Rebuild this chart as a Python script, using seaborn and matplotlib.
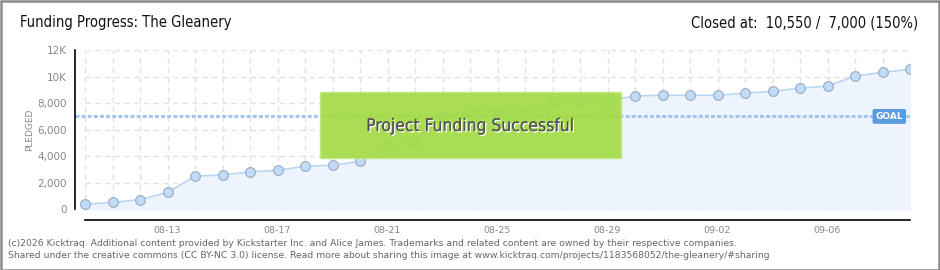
import matplotlib
matplotlib.use("Agg")
import matplotlib.pyplot as plt
import matplotlib.patches as mpatches
import matplotlib.patheffects as pe
import seaborn as sns
import pandas as pd
import numpy as np

# ---- data ----
dates = ["08-10", "08-11", "08-12", "08-13", "08-14", "08-15", "08-16", "08-17",
         "08-18", "08-19", "08-20", "08-21", "08-22", "08-23", "08-24", "08-25",
         "08-26", "08-27", "08-28", "08-29", "08-30", "08-31", "09-01", "09-02",
         "09-03", "09-04", "09-05", "09-06", "09-07", "09-08", "09-09"]
pledged = [380, 530, 730, 1280, 2500, 2590, 2830, 2940, 3260, 3320, 3620, 4780,
           5090, 7030, 7400, 7380, 7380, 8140, 8240, 8180, 8540, 8590, 8590, 8590,
           8760, 8890, 9120, 9290, 10040, 10320, 10550]
goal = 7000
xtick_labels = ["08-13", "08-17", "08-21", "08-25", "08-29", "09-02", "09-06"]
ytick_values = [0, 2000, 4000, 6000, 8000, 10000, 12000]
ytick_labels = ["0", "2,000", "4,000", "6,000", "8,000", "10K", "12K"]

title = "Funding Progress: The Gleanery"
status = "Closed at:  10,550 /  7,000 (150%)"
banner = "Project Funding Successful"
footer1 = ("(c)2026 Kicktraq. Additional content provided by Kickstarter Inc. and Alice James. "
           "Trademarks and related content are owned by their respective companies.")
footer2 = ("Shared under the creative commons (CC BY-NC 3.0) license. Read more about sharing "
           "this image at www.kicktraq.com/projects/1183568052/the-gleanery/#sharing")

df = pd.DataFrame({"date": dates, "pledged": pledged})
df["day"] = np.arange(len(df))

sns.set_style("white")
plt.rcParams["font.family"] = ["DejaVu Sans"]

W, H = 940, 270
fig = plt.figure(figsize=(W / 100, H / 100), dpi=100)
ax = fig.add_axes([75 / W, (H - 220) / H, (910 - 75) / W, (220 - 50) / H])

n = len(df)
ax.set_xlim(-10 / 27.5, n - 1)
ax.set_ylim(-800, 12000)

# grid
grid_kw = dict(colors="#e2e2e2", linestyles=(0, (4, 3)), linewidth=1, zorder=0)
ax.vlines(df["day"], 0, 12000, **grid_kw)
ax.hlines(ytick_values, 0, n - 1, **grid_kw)

# area + line
ax.fill_between(df["day"], 0, df["pledged"], color="#edf4fd", zorder=1)
sns.lineplot(data=df, x="day", y="pledged", ax=ax, color="#b9d7f3", linewidth=1.2,
             marker="o", markersize=7, markerfacecolor="#c2dcf7",
             markeredgecolor="#98a9bf", markeredgewidth=0.8, zorder=3)

# goal line
ax.axhline(goal, color="#a3c7ec", linewidth=2.2, linestyle=(0, (1.3, 0.7)), zorder=2)

# goal tag
ax.annotate("GOAL", xy=(n - 1 - 0.25, goal), xycoords="data", ha="right", va="center",
            fontsize=6.5, color="white", fontweight="bold",
            bbox=dict(boxstyle="round,pad=0.25,rounding_size=0.15", fc="#5b9be0", ec="#5b9be0"),
            zorder=6)

# banner box
bx0, bx1 = 320, 621
by0, by1 = 92, 158
fig.patches.append(mpatches.Rectangle((bx0 / W, (H - by1) / H), (bx1 - bx0) / W, (by1 - by0) / H,
                                      transform=fig.transFigure, facecolor="#a3db45", alpha=0.92,
                                      edgecolor="#c2e884", linewidth=1, zorder=5))
fig.text((bx0 + bx1) / 2 / W, (H - 126) / H, banner, ha="center", va="center",
         fontsize=12.5, color="#555555", zorder=6, fontstretch="condensed",
         path_effects=[pe.withSimplePatchShadow(offset=(1, -1), shadow_rgbFace="white", alpha=1.0),
                       pe.Normal()])

# spines / ticks
for s in ["top", "right"]:
    ax.spines[s].set_visible(False)
ax.spines["left"].set_bounds(0, 12000)
ax.spines["bottom"].set_bounds(0, n - 1)
ax.spines["left"].set_color("black")
ax.spines["bottom"].set_color("black")
ax.spines["left"].set_linewidth(1.2)
ax.spines["bottom"].set_linewidth(1.2)

ax.set_xticks(df["day"])
lbls = [d if d in xtick_labels else "" for d in df["date"]]
ax.set_xticklabels(lbls)
ax.tick_params(axis="x", direction="inout", length=7, width=1, color="black",
               labelsize=6.8, labelcolor="#888888", pad=1)
ax.set_yticks(ytick_values)
ax.set_yticklabels(ytick_labels)
ax.set_yticks([1000, 3000, 5000, 7000, 9000, 11000], minor=True)
ax.tick_params(axis="y", which="major", direction="out", length=4, width=1, color="black",
               labelsize=7.5, labelcolor="#888888", pad=2)
ax.tick_params(axis="y", which="minor", direction="out", length=3, width=1, color="#e00000")
ax.set_xlabel("")
ax.set_ylabel("")
fig.text(30 / W, (H - 130) / H, "PLEDGED", rotation=90, ha="center", va="center",
         fontsize=6.5, color="#888888")

# header
fig.text(20 / W, (H - 23) / H, title, ha="left", va="center", fontsize=10.5,
         color="#111111", fontstretch="condensed")
fig.text(918 / W, (H - 23) / H, status, ha="right", va="center", fontsize=10.5,
         color="#111111", fontstretch="condensed")

# footer
fig.text(8 / W, (H - 243) / H, footer1, ha="left", va="center", fontsize=6.7, color="#666666")
fig.text(8 / W, (H - 255) / H, footer2, ha="left", va="center", fontsize=6.7, color="#666666")

# frame
fig.patches.append(mpatches.Rectangle((0.5 / W, 0.5 / H), (W - 1.5) / W, (H - 1.5) / H,
                                      transform=fig.transFigure, fill=False,
                                      edgecolor="#8a8a8a", linewidth=1.8, zorder=10))

fig.savefig("out.png", dpi=100)
